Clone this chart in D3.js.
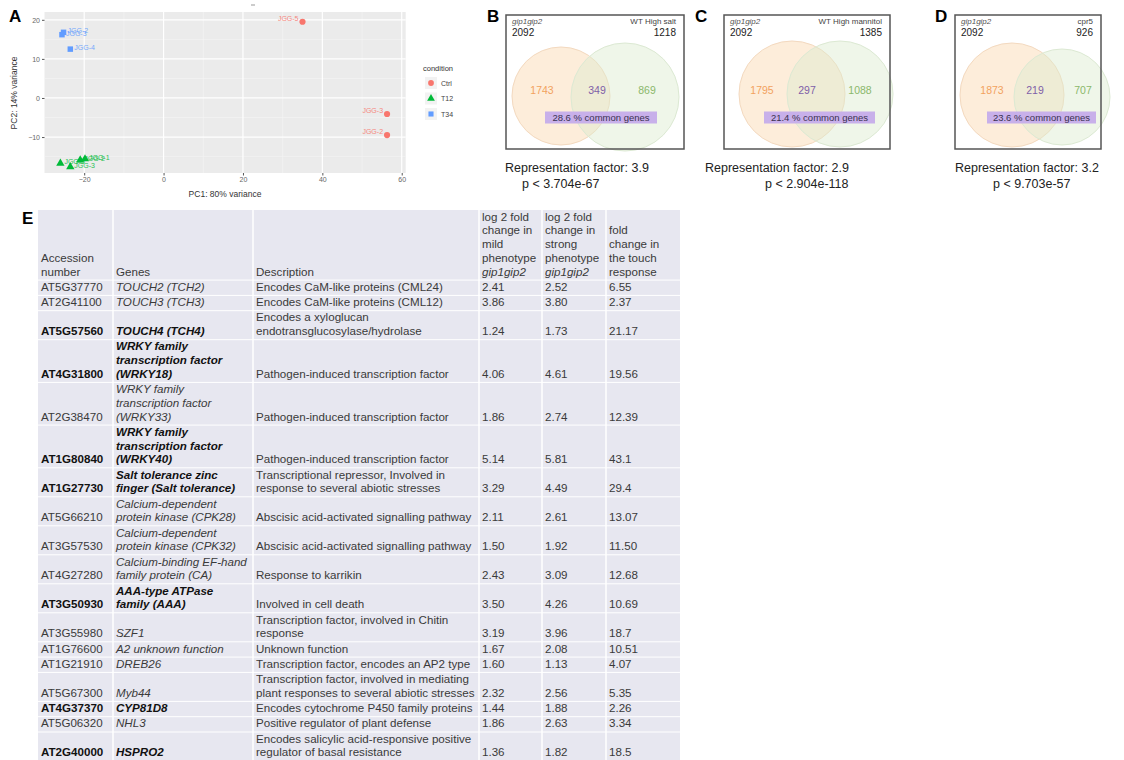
<!DOCTYPE html>
<html><head><meta charset="utf-8">
<script src="https://cdn.jsdelivr.net/npm/d3@7"></script>
<style>body{margin:0;background:#fff}svg{display:block;font-family:"Liberation Sans",Arial,sans-serif}</style>
</head><body>
<svg id="c" width="1124" height="760"></svg>
<script>
// ---------- Panel A data (PCA) ----------
const pcaSamples   = ["JGG-5","JGG-3","JGG-2","JGG-3","JGG-2","JGG-4","JGG-1","JGG-2","JGG-3","JGG-5"];
const pcaCondition = ["Ctrl","Ctrl","Ctrl","T34","T34","T34","T12","T12","T12","T12"];
const pcaPC1       = [35.0, 56.3, 56.3, -25.6, -25.2, -23.5, -19.8, -21.0, -23.5, -26.0];
const pcaPC2       = [19.5, -4.1, -9.5, 16.2, 16.8, 12.5, -15.6, -15.9, -17.6, -16.7];
const conditions   = ["Ctrl","T12","T34"];
const condColors   = ["#F8766D","#00BA38","#619CFF"];
const xTicks = [-20,0,20,40,60];
const yTicks = [-10,0,10,20];

// ---------- Panels B-D data (Venn) ----------
const vennLetters  = ["B","C","D"];
const vennLeftName = ["gip1gip2","gip1gip2","gip1gip2"];
const vennRightName= ["WT High salt","WT High mannitol","cpr5"];
const vennLeftTot  = [2092,2092,2092];
const vennRightTot = [1218,1385,926];
const vennLeftOnly = [1743,1795,1873];
const vennShared   = [349,297,219];
const vennRightOnly= [869,1088,707];
const vennPercent  = ["28.6","21.4","23.6"];
const repFactor    = ["3.9","2.9","3.2"];
const pValue       = ["3.704e-67","2.904e-118","9.703e-57"];

// ---------- Panel E data (table) ----------
const headers = ["Accession\nnumber","Genes","Description",
  "log 2 fold\nchange in\nmild\nphenotype\ngip1gip2",
  "log 2 fold\nchange in\nstrong\nphenotype\ngip1gip2",
  "fold\nchange in\nthe touch\nresponse"];
const accessions = ["AT5G37770","AT2G41100","AT5G57560","AT4G31800","AT2G38470","AT1G80840","AT1G27730","AT5G66210","AT3G57530","AT4G27280","AT3G50930","AT3G55980","AT1G76600","AT1G21910","AT5G67300","AT4G37370","AT5G06320","AT2G40000"];
const genes = ["TOUCH2 (TCH2)","TOUCH3 (TCH3)","TOUCH4 (TCH4)",
  "WRKY family\ntranscription factor\n(WRKY18)","WRKY family\ntranscription factor\n(WRKY33)","WRKY family\ntranscription factor\n(WRKY40)",
  "Salt tolerance zinc\nfinger (Salt tolerance)","Calcium-dependent\nprotein kinase (CPK28)","Calcium-dependent\nprotein kinase (CPK32)",
  "Calcium-binding EF-hand\nfamily protein (CA)","AAA-type ATPase\nfamily (AAA)","SZF1","A2 unknown function","DREB26","Myb44","CYP81D8","NHL3","HSPRO2"];
const descriptions = ["Encodes CaM-like proteins (CML24)","Encodes CaM-like proteins (CML12)",
  "Encodes a xyloglucan\nendotransglucosylase/hydrolase",
  "Pathogen-induced transcription factor","Pathogen-induced transcription factor","Pathogen-induced transcription factor",
  "Transcriptional repressor, Involved in\nresponse to several abiotic stresses",
  "Abscisic acid-activated signalling pathway","Abscisic acid-activated signalling pathway",
  "Response to karrikin","Involved in cell death",
  "Transcription factor, involved in Chitin\nresponse","Unknown function",
  "Transcription factor, encodes an AP2 type",
  "Transcription factor, involved in mediating\nplant responses to several abiotic stresses",
  "Encodes cytochrome P450 family proteins","Positive regulator of plant defense",
  "Encodes salicylic acid-responsive positive\nregulator of basal resistance"];
const mildFC   = ["2.41","3.86","1.24","4.06","1.86","5.14","3.29","2.11","1.50","2.43","3.50","3.19","1.67","1.60","2.32","1.44","1.86","1.36"];
const strongFC = ["2.52","3.80","1.73","4.61","2.74","5.81","4.49","2.61","1.92","3.09","4.26","3.96","2.08","1.13","2.56","1.88","2.63","1.82"];
const touchFC  = ["6.55","2.37","21.17","19.56","12.39","43.1","29.4","13.07","11.50","12.68","10.69","18.7","10.51","4.07","5.35","2.26","3.34","18.5"];
const boldRows = [false,false,true,true,false,true,true,false,false,false,true,false,false,false,false,true,false,true];

const svg = d3.select("#c");
const FONT = '"Liberation Sans",Arial,sans-serif';

// ================= Panel A =================
(function(){
  const x = d3.scaleLinear().domain([-30,61]).range([44.5,405.7]);
  const y = d3.scaleLinear().domain([-19.2,22]).range([173,12]);
  const g = svg.append("g");
  g.append("rect").attr("x",x(-30)).attr("y",y(22)).attr("width",x(61)-x(-30)).attr("height",y(-19.2)-y(22)).attr("fill","#ebebeb");
  const xMinor=[-30,-10,10,30,50], yMinor=[-15,-5,5,15];
  g.selectAll(".xm").data(xMinor).join("line").attr("x1",d=>x(d)).attr("x2",d=>x(d)).attr("y1",y(22)).attr("y2",y(-19.2)).attr("stroke","#f5f5f5").attr("stroke-width",0.6);
  g.selectAll(".ym").data(yMinor).join("line").attr("y1",d=>y(d)).attr("y2",d=>y(d)).attr("x1",x(-30)).attr("x2",x(61)).attr("stroke","#f5f5f5").attr("stroke-width",0.6);
  g.selectAll(".xM").data(xTicks).join("line").attr("x1",d=>x(d)).attr("x2",d=>x(d)).attr("y1",y(22)).attr("y2",y(-19.2)).attr("stroke","#fff").attr("stroke-width",1.2);
  g.selectAll(".yM").data(yTicks).join("line").attr("y1",d=>y(d)).attr("y2",d=>y(d)).attr("x1",x(-30)).attr("x2",x(61)).attr("stroke","#fff").attr("stroke-width",1.2);
  const xa = g.append("g").attr("transform",`translate(0,${y(-19.2)})`).call(d3.axisBottom(x).tickValues(xTicks).tickSize(2.5).tickPadding(2));
  const ya = g.append("g").attr("transform",`translate(${x(-30)},0)`).call(d3.axisLeft(y).tickValues(yTicks).tickSize(2.5).tickPadding(2));
  [xa,ya].forEach(a=>{a.select(".domain").remove();a.selectAll("line").attr("stroke","#555");a.selectAll("text").attr("fill","#666").style("font-size","7px").style("font-family",FONT);});
  g.append("text").attr("x",225).attr("y",197).attr("text-anchor","middle").attr("font-size",8.5).attr("fill","#333").text("PC1: 80% variance");
  g.append("text").attr("transform","translate(17,93) rotate(-90)").attr("text-anchor","middle").attr("font-size",8.5).attr("fill","#333").text("PC2: 14% variance");
  const col = d3.scaleOrdinal().domain(conditions).range(condColors);
  const sym = d3.scaleOrdinal().domain(conditions).range([d3.symbolCircle,d3.symbolTriangle,d3.symbolSquare]);
  const pts = pcaPC1.map((v,i)=>({x:v,y:pcaPC2[i],c:pcaCondition[i],s:pcaSamples[i]}));
  g.selectAll(".lab").data(pts).join("text")
    .attr("x",d=>d.c==="Ctrl"? x(d.x)-4 : x(d.x)+4)
    .attr("y",d=>y(d.y)+ (d.c==="Ctrl"? -1 : 1))
    .attr("text-anchor",d=>d.c==="Ctrl"?"end":"start")
    .attr("font-size",7).attr("fill",d=>col(d.c)).attr("opacity",0.85).text(d=>d.s);
  g.selectAll(".pt").data(pts).join("path")
    .attr("transform",d=>`translate(${x(d.x)},${y(d.y)})`)
    .attr("d",d=>d3.symbol().type(sym(d.c)).size(30)()).attr("fill",d=>col(d.c));
  g.append("text").attr("x",423).attr("y",71).attr("font-size",7.5).attr("fill","#333").text("condition");
  conditions.forEach((c,i)=>{
    const yy = 83 + i*15.5;
    g.append("rect").attr("x",425).attr("y",yy-6).attr("width",12).attr("height",12).attr("fill","#f2f2f2");
    g.append("path").attr("transform",`translate(431,${yy})`).attr("d",d3.symbol().type(sym(c)).size(26)()).attr("fill",col(c));
    g.append("text").attr("x",441).attr("y",yy+2.5).attr("font-size",7).attr("fill","#444").text(c);
  });
  g.append("line").attr("x1",251).attr("x2",255).attr("y1",5).attr("y2",5).attr("stroke","#999");
  svg.append("text").attr("x",9).attr("y",22).attr("font-size",17).attr("font-weight","bold").text("A");
})();

// ================= Panels B-D =================
const vennLayout = [
  {lx:487, bx:506, bw:178, lc:[561,96,49], rc:[625,97,54], nx:[542,597,647], bandX:[545,657], rfx:505, px:522},
  {lx:695, bx:724, bw:166, lc:[792,94,53], rc:[840,94,53], nx:[762,807,860], bandX:[764,875], rfx:705, px:765},
  {lx:935, bx:955, bw:146, lc:[1012,95,52], rc:[1062,97,48], nx:[992,1035,1083], bandX:[987,1096], rfx:955, px:993}
];
vennLetters.forEach((L,i)=>{
  const lay = vennLayout[i];
  const g = svg.append("g");
  const by=15, bh=134;
  g.append("text").attr("x",lay.lx).attr("y",22).attr("font-size",17).attr("font-weight","bold").text(L);
  g.append("circle").attr("cx",lay.lc[0]).attr("cy",lay.lc[1]).attr("r",lay.lc[2]).attr("fill","#fcdcb6").attr("fill-opacity",0.5).attr("stroke","#f3d9bf").attr("stroke-width",1);
  g.append("circle").attr("cx",lay.rc[0]).attr("cy",lay.rc[1]).attr("r",lay.rc[2]).attr("fill","#dcecce").attr("fill-opacity",0.45).attr("stroke","#dce9d3").attr("stroke-width",1);
  g.append("rect").attr("x",lay.bx).attr("y",by).attr("width",lay.bw).attr("height",bh).attr("fill","none").attr("stroke","#555").attr("stroke-width",1.5);
  g.append("text").attr("x",lay.bx+6).attr("y",24).attr("font-size",8).attr("fill","#555").attr("font-style","italic").text(vennLeftName[i]);
  g.append("text").attr("x",lay.bx+6).attr("y",36).attr("font-size",10).attr("fill","#222").text(vennLeftTot[i]);
  g.append("text").attr("x",lay.bx+lay.bw-8).attr("y",24).attr("font-size",8).attr("fill","#444").attr("text-anchor","end").text(vennRightName[i]);
  g.append("text").attr("x",lay.bx+lay.bw-8).attr("y",36).attr("font-size",10).attr("fill","#222").attr("text-anchor","end").text(vennRightTot[i]);
  const nums=[vennLeftOnly[i],vennShared[i],vennRightOnly[i]], cols=["#f2a25e","#7e5fa8","#8bb86b"];
  nums.forEach((n,k)=>g.append("text").attr("x",lay.nx[k]).attr("y",94).attr("font-size",10.5).attr("fill",cols[k]).attr("text-anchor","middle").text(n));
  g.append("rect").attr("x",lay.bandX[0]).attr("y",111.5).attr("width",lay.bandX[1]-lay.bandX[0]).attr("height",12).attr("fill","#c8b0ea");
  g.append("text").attr("x",(lay.bandX[0]+lay.bandX[1])/2).attr("y",121).attr("font-size",9.5).attr("fill","#3a3050").attr("text-anchor","middle").text(vennPercent[i]+" % common genes");
  g.append("text").attr("x",lay.rfx).attr("y",172).attr("font-size",12.5).attr("fill","#222").text("Representation factor: "+repFactor[i]);
  g.append("text").attr("x",lay.px).attr("y",188).attr("font-size",12.5).attr("fill","#222").text("p < "+pValue[i]);
});

// ================= Panel E =================
(function(){
  const g = svg.append("g").attr("font-size",11.6).attr("fill","#3a3a3a");
  svg.append("text").attr("x",22).attr("y",224).attr("font-size",17).attr("font-weight","bold").text("E");
  const colEdges = [38,113,253,479,542,606,680];
  const colX = d3.scaleOrdinal().domain(d3.range(6)).range(colEdges.slice(0,6).map(v=>v+3));
  const LH = 13.7, PAD = 1.6, top = 210;
  const rows = [{cells:headers, bold:false, header:true}].concat(accessions.map((a,i)=>({
    cells:[a,genes[i],descriptions[i],mildFC[i],strongFC[i],touchFC[i]], bold:boldRows[i], header:false})));
  let yy = top;
  rows.forEach(r=>{
    r.lines = r.cells.map(c=>c.split("\n"));
    r.n = d3.max(r.lines,l=>l.length);
    r.y0 = yy; r.h = r.n*LH + PAD; yy += r.h;
  });
  const bottom = yy;
  g.append("rect").attr("x",colEdges[0]).attr("y",top).attr("width",colEdges[6]-colEdges[0]).attr("height",bottom-top).attr("fill","#e7e7f0");
  rows.slice(1).forEach(r=>g.append("line").attr("x1",colEdges[0]).attr("x2",colEdges[6]).attr("y1",r.y0).attr("y2",r.y0).attr("stroke","#fff").attr("stroke-width",1));
  colEdges.slice(1,6).forEach(cx=>g.append("line").attr("x1",cx).attr("x2",cx).attr("y1",top).attr("y2",bottom).attr("stroke","#fff").attr("stroke-width",1.5));
  rows.forEach(r=>{
    r.lines.forEach((ls,ci)=>{
      const off = r.n - ls.length;
      ls.forEach((t,li)=>{
        const txt = g.append("text").attr("x",colX(ci)).attr("y",r.y0 + (off+li+1)*LH - 3).text(t);
        if(!r.header && ci===1) txt.attr("font-style","italic");
        if(r.header && ci>=3 && ci<=4 && li===4) txt.attr("font-style","italic");
        if(r.bold && ci<=1) txt.attr("font-weight","bold").attr("fill","#111");
      });
    });
  });
})();
</script>
</body></html>
